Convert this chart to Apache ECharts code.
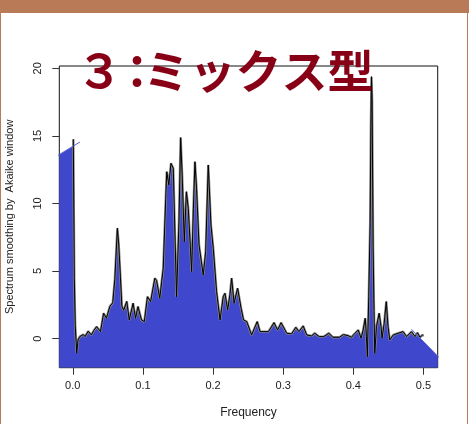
<!DOCTYPE html>
<html><head><meta charset="utf-8">
<script src="https://cdn.jsdelivr.net/npm/echarts@6/dist/echarts.min.js"></script>
<style>
html,body{margin:0;padding:0;background:#fff;}
#wrap{position:relative;width:469px;height:424px;overflow:hidden;background:#fff;}
#chart{position:absolute;left:0;top:0;width:469px;height:424px;}
.b{position:absolute;background:#B97A57;}
</style></head><body>
<div id="wrap"><div id="chart"></div>
<div class="b" style="left:0;top:0;width:469px;height:13px"></div>
<div class="b" style="left:0;top:0;width:1px;height:424px"></div>
<div class="b" style="left:467px;top:0;width:1px;height:424px"></div>
</div>
<script>
const titleText = '３：ミックス型';
const xName = 'Frequency';
const yName = 'Spectrum smoothing by  Akaike window';
const xRange = [-0.0192, 0.5203];
const yRange = [-2.15, 20.17];
const xTicks = [0, 0.1, 0.2, 0.3, 0.4, 0.5];
const yTicks = [0, 5, 10, 15, 20];

const freq = [0.0008,0.0016,0.0022,0.0035,0.0057,0.0075,0.0100,0.0125,0.0150,0.0175,
  0.0220,0.0265,0.0300,0.0340,0.0395,0.0440,0.0480,0.0530,0.0570,0.0600,
  0.0620,0.0636,0.0655,0.0680,0.0700,0.0725,0.0770,0.0805,0.0860,0.0895,
  0.0930,0.0980,0.1020,0.1065,0.1110,0.1170,0.1195,0.1240,0.1290,0.1325,
  0.1340,0.1370,0.1400,0.1433,0.1457,0.1480,0.1514,0.1538,0.1560,0.1590,
  0.1620,0.1647,0.1695,0.1720,0.1742,0.1765,0.1800,0.1860,0.1895,0.1932,
  0.1970,0.2003,0.2050,0.2100,0.2145,0.2170,0.2208,0.2240,0.2265,0.2300,
  0.2350,0.2400,0.2435,0.2480,0.2550,0.2630,0.2670,0.2790,0.2870,0.2920,
  0.2970,0.3050,0.3120,0.3180,0.3225,0.3285,0.3335,0.3405,0.3450,0.3513,
  0.3580,0.3650,0.3710,0.3800,0.3860,0.3925,0.3975,0.4000,0.4070,0.4110,
  0.4140,0.4170,0.4187,0.4200,0.4220,0.4240,0.4250,0.4259,0.4268,0.4282,
  0.4295,0.4306,0.4330,0.4368,0.4395,0.4410,0.4440,0.4470,0.4495,0.4520,
  0.4570,0.4640,0.4710,0.4760,0.4830,0.4880,0.4915,0.4950,0.4986,0.5000];
const spec = [14.75,9.0,4.5,1.0,-1.08,-0.1,0.15,0.22,0.3,0.15,
  0.55,0.27,0.6,0.89,0.52,1.88,1.51,2.4,2.65,4.4,
  6.5,8.17,7.0,4.5,2.4,2.1,2.75,1.38,2.62,1.51,
  2.37,1.38,1.26,3.1,2.74,4.47,4.3,2.99,5.2,10.3,
  12.35,11.37,12.97,12.6,7.67,3.1,8.65,14.87,12.1,7.17,
  10.87,9.64,4.96,9.64,13.09,11.12,6.93,4.71,6.43,12.85,
  8.41,6.69,3.48,1.38,3.1,3.36,2.12,3.23,4.47,2.62,
  3.73,2.25,1.38,1.26,0.27,1.26,0.52,0.52,1.18,0.64,
  1.18,0.4,0.35,0.84,0.52,0.94,0.27,0.2,0.4,0.15,
  0.15,0.4,0.1,0.1,0.3,0.22,0.1,0.27,0.64,0.03,
  0.64,1.51,0.15,-1.33,3.1,8.5,15.7,19.38,17.66,6.8,
  2.0,-1.08,0.89,1.88,0.89,0.03,1.14,2.74,0.89,-0.1,
  0.27,0.4,0.52,0.15,0.52,0.15,0.44,0.1,0.27,0.2];

// hand-painted fill edges and strokes
const leftFillEdge = [[-0.0192, 13.62], [0.0008, 14.25]];
const rightFillEdge = [[0.4880, 0.15], [0.4915, 0.23], [0.4950, 0.04], [0.5000, -0.21], [0.5203, -1.29]];
const leftPaintStroke = [[-0.0366, 13.07], [0.0104, 14.55]];
const rightPaintStroke = [[0.4829, 0.695], [0.5350, -2.07]];

const curve = freq.map((f, i) => [f, spec[i]]);
const fillData = leftFillEdge
  .concat(curve.filter(p => p[0] > leftFillEdge[leftFillEdge.length - 1][0] && p[0] < rightFillEdge[0][0]))
  .concat(rightFillEdge);

const G = {left: 59.3, top: 66, width: 378.4, height: 301.7};
const px = x => G.left + (x - xRange[0]) / (xRange[1] - xRange[0]) * G.width;
const py = y => G.top + (yRange[1] - y) / (yRange[1] - yRange[0]) * G.height;
// grid 1: x ticks (spans 0..0.5 horizontally, full plot height)
const GX = {left: px(xTicks[0]), width: px(xTicks[xTicks.length - 1]) - px(xTicks[0]), top: G.top, height: G.height};
// grid 2: y ticks (spans 0..20 vertically, full plot width)
const GY = {left: G.left, width: G.width, top: py(yTicks[yTicks.length - 1]), height: py(yTicks[0]) - py(yTicks[yTicks.length - 1])};

const FONT = 'Liberation Sans';
const TITLE_FONT = 'bold 46px "Noto Sans CJK JP"';
const chart = echarts.init(document.getElementById('chart'), null, {renderer: 'canvas'});
const hidden = {axisLine: {show: false}, axisTick: {show: false}, axisLabel: {show: false}, splitLine: {show: false}};
chart.setOption({
  animation: false,
  backgroundColor: 'transparent',
  graphic: [{
    type: 'text', left: 76.6, top: 48, z: 100,
    style: {
      text: '{a|' + titleText.slice(0, 1) + '}{b|' + titleText.slice(1, 2) + '}{c|' + titleText.slice(2) + '}',
      rich: {
        a: {font: TITLE_FONT, fill: '#880015', width: 37.4},
        b: {font: TITLE_FONT, fill: '#880015', width: 29.4},
        c: {font: TITLE_FONT, fill: '#880015'}
      }
    }
  }],
  grid: [
    Object.assign({show: true, borderColor: '#111', borderWidth: 1, backgroundColor: 'transparent',
      outerBoundsMode: 'none', containLabel: false}, G),
    Object.assign({show: false, outerBoundsMode: 'none', containLabel: false}, GX),
    Object.assign({show: false, outerBoundsMode: 'none', containLabel: false}, GY)
  ],
  xAxis: [
    Object.assign({type: 'value', gridIndex: 0, min: xRange[0], max: xRange[1],
      name: xName, nameLocation: 'middle', nameGap: 39,
      nameTextStyle: {fontFamily: FONT, fontSize: 12, color: '#222'}}, hidden),
    {type: 'value', gridIndex: 1, min: xTicks[0], max: xTicks[xTicks.length - 1], interval: 0.1,
     position: 'bottom',
     axisLine: {show: false, onZero: false}, splitLine: {show: false},
     axisTick: {show: true, length: 7, lineStyle: {color: '#333', width: 1}},
     axisLabel: {margin: 13, fontFamily: FONT, fontSize: 11, color: '#222', formatter: v => v.toFixed(1)}},
    Object.assign({type: 'value', gridIndex: 2, min: 0, max: 1}, hidden)
  ],
  yAxis: [
    Object.assign({type: 'value', gridIndex: 0, min: yRange[0], max: yRange[1],
      name: yName, nameLocation: 'middle', nameGap: 44,
      nameTextStyle: {fontFamily: FONT, fontSize: 11, color: '#222'}}, hidden),
    Object.assign({type: 'value', gridIndex: 1, min: 0, max: 1}, hidden),
    {type: 'value', gridIndex: 2, min: yTicks[0], max: yTicks[yTicks.length - 1], interval: 5,
     position: 'left',
     axisLine: {show: false, onZero: false}, splitLine: {show: false},
     axisTick: {show: true, length: 7, lineStyle: {color: '#333', width: 1}},
     axisLabel: {margin: 16, rotate: 90, fontFamily: FONT, fontSize: 11, color: '#222'}}
  ],
  series: [
    {type: 'line', xAxisIndex: 0, yAxisIndex: 0, data: fillData, showSymbol: false,
     lineStyle: {width: 0, opacity: 0}, areaStyle: {color: '#3F48CC', opacity: 1, origin: 'start'}, z: 1},
    {type: 'line', xAxisIndex: 0, yAxisIndex: 0, data: curve, showSymbol: false,
     lineStyle: {color: '#8a8a8a', width: 2.4}, z: 2},
    {type: 'line', xAxisIndex: 0, yAxisIndex: 0, data: curve, showSymbol: false,
     lineStyle: {color: '#000', width: 1}, z: 3},
    {type: 'line', xAxisIndex: 0, yAxisIndex: 0, data: leftPaintStroke, showSymbol: false, clip: false,
     lineStyle: {color: '#5b63d8', width: 1}, z: 4},
    {type: 'line', xAxisIndex: 0, yAxisIndex: 0, data: rightPaintStroke, showSymbol: false, clip: false,
     lineStyle: {color: '#5b63d8', width: 1}, z: 4}
  ]
});
</script>
</body></html>
